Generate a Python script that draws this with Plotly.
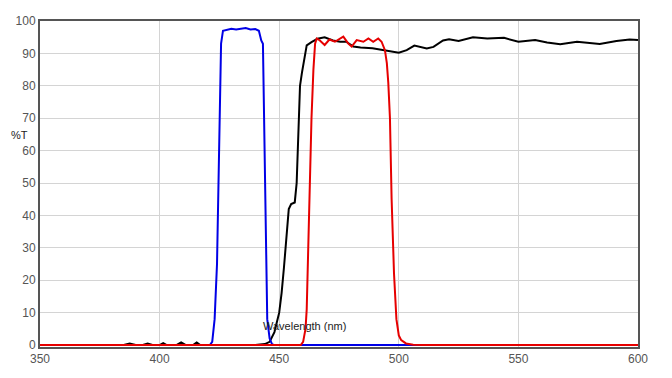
import plotly.graph_objects as go

# ---- data ----
wl_black = [350, 385, 387.5, 390, 393, 395, 397, 400, 401.5, 403, 407, 409, 411, 414, 415.5, 417,
            440, 444, 446, 448, 450, 451, 452, 453, 454, 455, 456.5, 457.3, 458, 458.7, 459.5, 460.5,
            461.5, 463.5, 466, 469, 472.5, 475.5, 478, 481, 484, 489, 495, 500, 503.3, 506.5, 511.7,
            514.5, 518.5, 521, 525, 531, 537, 544, 550, 557, 562, 567.5, 574.5, 578.5, 584, 591,
            596.5, 600]
t_black = [0, 0, 0.5, 0, 0, 0.5, 0, 0, 0.6, 0, 0, 0.8, 0, 0, 0.8, 0,
           0, 0.3, 1, 4, 10, 16, 24, 33, 42, 43.5, 44, 50, 65, 80, 84, 88,
           92.5, 93.5, 94.5, 95, 94, 93.6, 93.6, 92.1, 91.8, 91.6, 90.8, 90.2, 91, 92.4, 91.5,
           92, 94, 94.4, 93.8, 95, 94.6, 94.8, 93.6, 94.1, 93.4, 92.8, 93.6, 93.3, 92.9, 93.8,
           94.3, 94.1]

wl_blue = [350, 421, 422, 423, 424, 425, 425.7, 426.5, 428, 430, 432, 434, 436, 438, 440, 441.5,
           442.5, 443.2, 444, 445, 446, 447, 448, 600]
t_blue = [0, 0, 1, 8, 25, 70, 93, 97, 97.3, 97.6, 97.4, 97.7, 97.8, 97.4, 97.5, 97,
          94, 93, 50, 8, 2, 0.3, 0, 0]

wl_red = [350, 459, 460, 461, 461.5, 462, 462.9, 463.5, 464.3, 465, 465.7, 467, 469, 471, 473.3,
          475, 476.8, 478.9, 480.3, 482.4, 485.2, 487.3, 489.3, 491.4, 492.8, 494.2, 495, 495.6,
          496.3, 497, 498, 499, 500, 501, 503, 506, 510, 600]
t_red = [0, 0, 1, 5, 11, 28, 49, 70, 85, 93, 94.6, 94, 92.6, 94.3, 93.6,
         94.5, 95.2, 93, 92.1, 94.1, 93.6, 94.6, 93.6, 94.6, 93.6, 91, 87, 81,
         70, 45, 22, 8, 3, 1.5, 0.5, 0.1, 0, 0]

x_ticks = [350, 400, 450, 500, 550, 600]
y_ticks = [0, 10, 20, 30, 40, 50, 60, 70, 80, 90, 100]

fig = go.Figure()
fig.add_trace(go.Scatter(x=wl_black, y=t_black, mode="lines",
                         line=dict(color="#000000", width=2)))
fig.add_trace(go.Scatter(x=wl_blue, y=t_blue, mode="lines",
                         line=dict(color="#0000e6", width=2)))
fig.add_trace(go.Scatter(x=wl_red, y=t_red, mode="lines",
                         line=dict(color="#e60000", width=2)))

fig.update_layout(
    width=672, height=378,
    margin=dict(l=40, r=34, t=21, b=31),
    paper_bgcolor="white", plot_bgcolor="white",
    showlegend=False,
    font=dict(family="Liberation Sans, Arial, sans-serif", size=12, color="#444"),
    xaxis=dict(range=[350, 600], tickvals=x_ticks, ticks="", showgrid=True,
               gridcolor="#d4d4d4", gridwidth=1, zeroline=False,
               showline=True, linecolor="#555", linewidth=2, mirror=True,
               tickfont=dict(size=12, color="#555")),
    yaxis=dict(range=[-0.6, 100], tickvals=y_ticks, ticks="", showgrid=True,
               gridcolor="#d4d4d4", gridwidth=1, zeroline=False,
               showline=True, linecolor="#555", linewidth=2, mirror=True,
               tickfont=dict(size=12, color="#555")),
    annotations=[
        dict(text="%T", xref="paper", yref="paper", x=-0.052, y=0.65,
             xanchor="left", yanchor="middle", showarrow=False,
             font=dict(size=11, color="#222")),
        dict(text="Wavelength (nm)", xref="x", yref="paper", x=460.5, y=0.065,
             xanchor="center", yanchor="middle", showarrow=False,
             font=dict(size=11, color="#222")),
    ],
)

fig.write_html("out.html")
